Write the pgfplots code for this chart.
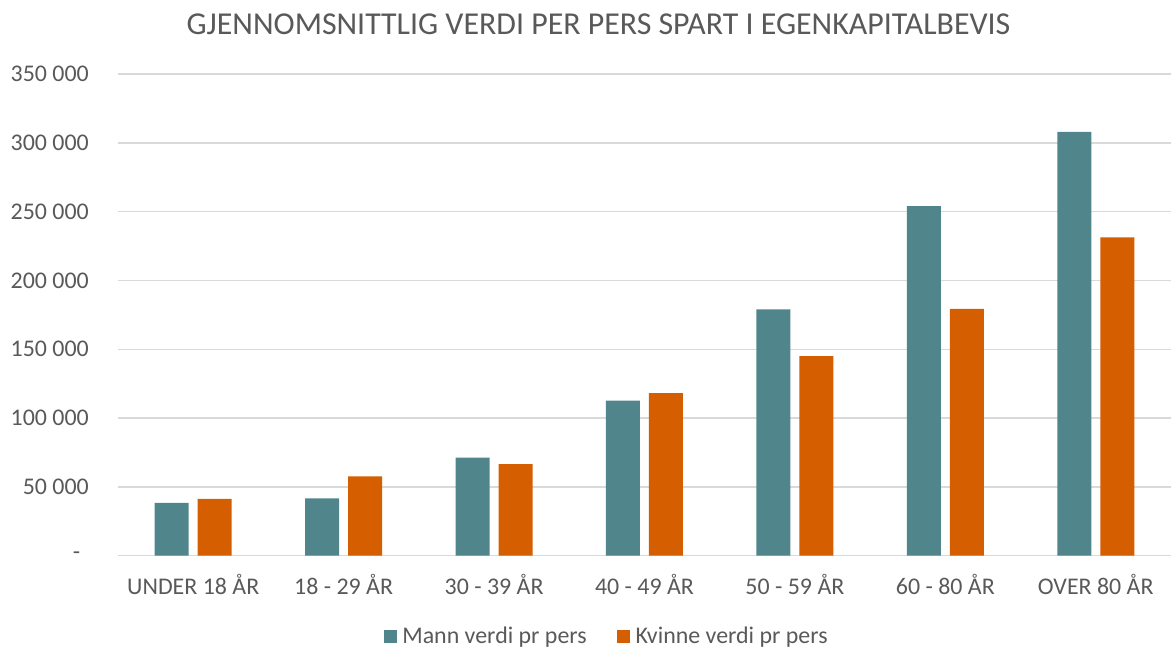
\documentclass[border=0pt]{standalone}
\usepackage{fontspec}
\setmainfont{Carlito}
\usepackage{pgfplots}
\pgfplotsset{compat=1.18}
\definecolor{mannc}{HTML}{50858C}
\definecolor{kvinnec}{HTML}{D55E00}
\definecolor{txtgray}{HTML}{595959}
\definecolor{gridgray}{HTML}{D9D9D9}
\begin{document}
\begin{tikzpicture}
\begin{axis}[
  at={(0,0)}, anchor=south west, scale only axis,
  width=1053bp, height=481.7bp,
  xmin=-0.5, xmax=6.5, ymin=0, ymax=350000,
  ybar=9bp, bar width=34bp,
  axis line style={draw=none},
  scaled y ticks=false,
  ymajorgrids, grid style={draw=gridgray, line width=1.4bp},
  major tick length=0pt,
  xtick={0,1,2,3,4,5,6},
  xticklabels={UNDER 18 ÅR, 18 - 29 ÅR, 30 - 39 ÅR, 40 - 49 ÅR, 50 - 59 ÅR, 60 - 80 ÅR, OVER 80 ÅR},
  ytick={0,50000,100000,150000,200000,250000,300000,350000},
  yticklabels={{\makebox[16bp][l]{-}}, 50 000, 100 000, 150 000, 200 000, 250 000, 300 000, 350 000},
  tick label style={font=\fontsize{24}{28}\selectfont, text=txtgray},
  yticklabel style={anchor=east, inner sep=0pt, xshift=-29bp},
  xticklabel style={anchor=base, inner sep=0pt, yshift=-39bp},
  legend style={at={(0.4644,-0.1667)}, anchor=center, draw=none, fill=none,
    font=\fontsize{24}{28}\selectfont, text=txtgray, inner sep=0pt,
    nodes={inner sep=2.5pt}},
  legend columns=2,
  /tikz/every even column/.append style={column sep=28bp},
  legend image code/.code={\fill[#1] (0bp,-6.5bp) rectangle (13bp,6.5bp);},
]
\addplot[fill=mannc, draw=none] coordinates {(0,38300) (1,41700) (2,71200) (3,112600) (4,179000) (5,254000) (6,308000)};
\addplot[fill=kvinnec, draw=none] coordinates {(0,41200) (1,57700) (2,66600) (3,118200) (4,145100) (5,179400) (6,231300)};
\legend{\hspace{3bp}Mann verdi pr pers, \hspace{3bp}Kvinne verdi pr pers}
\end{axis}
\node[font=\fontsize{32}{38}\selectfont, text=txtgray] at (480.5bp,531.7bp) {GJENNOMSNITTLIG VERDI PER PERS SPART I EGENKAPITALBEVIS};
\pgfresetboundingbox
\path[use as bounding box] (-118bp,-92.3bp) rectangle (1053bp,555.7bp);
\end{tikzpicture}
\end{document}
